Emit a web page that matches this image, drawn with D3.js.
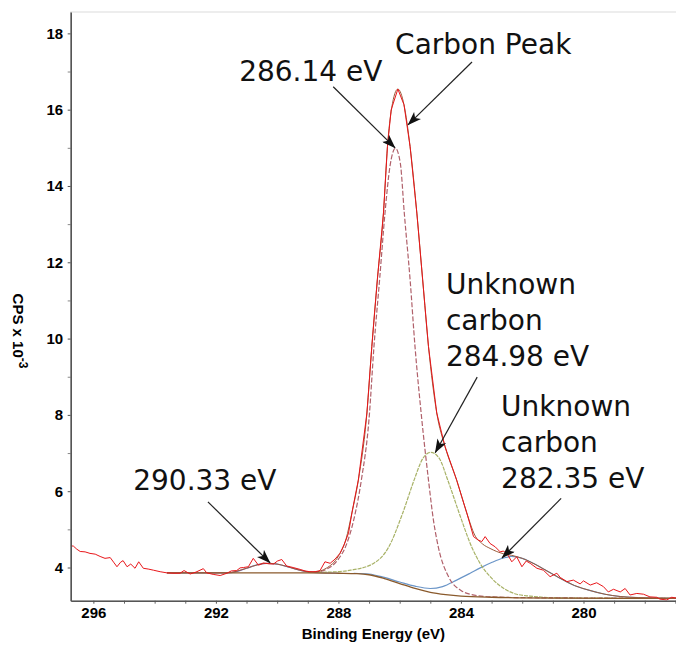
<!DOCTYPE html>
<html>
<head>
<meta charset="utf-8">
<script src="https://cdn.jsdelivr.net/npm/d3@7"></script>
<style>
  html, body { margin: 0; padding: 0; background: #fff; }
  svg { display: block; }
</style>
</head>
<body>
<svg id="chart" width="676" height="647"></svg>
<script>
// ---- C 1s spectrum: binding energy (eV) vs counts per second (x 10^3) ----

// Axis ticks
const energyTicks = [296, 292, 288, 284, 280];
const energyMinorTicks = [295, 294, 293, 291, 290, 289, 287, 286, 285, 283, 282, 281, 279, 278, 277];
const cpsTicks = [4, 6, 8, 10, 12, 14, 16, 18];
const cpsMinorTicks = [5, 7, 9, 11, 13, 15, 17];

// Measured spectrum
const rawEnergy = [296.74, 296.65, 296.54, 296.43, 296.27, 296.11, 295.94, 295.78, 295.62, 295.45,
  295.34, 295.23, 295.11, 295.03, 294.90, 294.78, 294.64, 294.52, 294.37, 294.21,
  294.04, 293.82, 293.60, 293.40, 293.17, 293.04, 292.84, 292.65, 292.41, 292.30,
  292.09, 291.86, 291.64, 291.50, 291.32, 291.21, 291.10, 290.94, 290.78, 290.61,
  290.45, 290.30, 290.12, 289.99, 289.85, 289.69, 289.48, 289.25, 289.09, 288.93,
  288.76, 288.60, 288.44, 288.27, 288.11, 287.95, 287.82, 287.67, 287.56, 287.46,
  287.35, 287.07, 286.91, 286.73, 286.53, 286.40, 286.28, 286.06, 285.86, 285.66,
  285.44, 285.25, 285.06, 284.79, 284.52, 284.14, 283.81, 283.59, 283.44, 283.32,
  283.21, 283.05, 282.88, 282.72, 282.62, 282.50, 282.34, 282.18, 282.01, 281.87,
  281.74, 281.52, 281.31, 281.09, 280.87, 280.76, 280.54, 280.33, 280.11, 280.00,
  279.78, 279.57, 279.35, 279.19, 279.02, 278.80, 278.64, 278.48, 278.26, 278.04,
  277.83, 277.61, 277.50, 277.28, 277.12, 276.98];
const rawCps = [4.57, 4.56, 4.48, 4.42, 4.41, 4.37, 4.35, 4.29, 4.24, 4.26,
  4.14, 4.02, 4.14, 4.18, 4.02, 4.09, 3.98, 4.15, 3.98, 3.96,
  3.93, 3.89, 3.86, 3.85, 3.85, 3.92, 3.83, 3.88, 3.97, 3.86,
  3.82, 3.79, 3.85, 3.91, 3.92, 3.99, 4.00, 4.02, 4.24, 4.06,
  4.12, 4.10, 4.09, 4.17, 4.21, 4.04, 4.00, 3.95, 3.91, 3.89,
  3.89, 3.92, 4.15, 4.11, 4.22, 4.37, 4.59, 4.90, 5.43, 5.85,
  6.29, 8.05, 9.79, 11.54, 13.29, 15.03, 15.99, 16.54, 16.13, 15.03,
  13.29, 11.54, 9.79, 8.05, 7.17, 6.29, 5.43, 4.81, 4.72, 4.68,
  4.81, 4.63, 4.54, 4.41, 4.43, 4.37, 4.15, 4.28, 4.02, 4.17,
  4.11, 3.98, 3.93, 3.76, 3.85, 3.74, 3.63, 3.67, 3.57, 3.65,
  3.54, 3.60, 3.50, 3.36, 3.43, 3.36, 3.45, 3.28, 3.32, 3.30,
  3.23, 3.22, 3.17, 3.15, 3.22, 3.20];

// Fitted envelope
const envEnergy = [293.6, 291.64, 291.0, 290.6, 290.33, 290.0, 289.7, 289.45, 289.1, 288.8,
  288.4, 288.0, 287.75, 287.56, 287.35, 287.07, 286.91, 286.73, 286.53, 286.40,
  286.26, 286.06, 285.86, 285.66, 285.44, 285.25, 285.06, 284.79, 284.52, 284.14,
  283.81, 283.55, 283.30, 283.05, 282.61, 282.35, 282.0, 281.74, 281.3, 280.77,
  280.3, 279.8, 279.3, 278.8, 278.2, 276.98];
const envCps = [3.86, 3.86, 3.98, 4.08, 4.11, 4.09, 4.03, 3.97, 3.90, 3.88,
  3.98, 4.30, 4.75, 5.43, 6.29, 8.05, 9.79, 11.54, 13.29, 15.03,
  16.05, 16.54, 16.13, 15.03, 13.29, 11.54, 9.79, 8.05, 7.17, 6.29,
  5.43, 4.85, 4.62, 4.50, 4.36, 4.32, 4.24, 4.15, 3.96, 3.72,
  3.53, 3.40, 3.30, 3.24, 3.21, 3.19];

// Shirley background
const bgEnergy = [293.6, 289.0, 288.0, 287.4, 287.0, 286.5, 286.0, 285.5, 285.0, 284.5, 284.0, 283.0, 281.0, 276.98];
const bgCps = [3.86, 3.86, 3.85, 3.84, 3.81, 3.71, 3.58, 3.45, 3.35, 3.29, 3.25, 3.22, 3.20, 3.19];

// Component at 290.33 eV
const c290Energy = [293.6, 291.64, 291.3, 291.0, 290.6, 290.33, 290.0, 289.7, 289.45, 289.1, 288.8, 288.0];
const c290Cps = [3.86, 3.86, 3.90, 3.98, 4.08, 4.11, 4.09, 4.03, 3.97, 3.90, 3.87, 3.85];

// Component at 286.14 eV
const c286Energy = [288.8, 288.4, 288.0, 287.75, 287.5, 287.25, 287.0, 286.84, 286.65, 286.48,
  286.32, 286.14, 285.98, 285.85, 285.66, 285.5, 285.3, 285.06, 284.9, 284.74,
  284.4, 284.0, 283.7, 283.0, 282.0, 280.0, 276.98];
const c286Cps = [3.87, 3.95, 4.22, 4.58, 5.25, 6.30, 7.90, 9.79, 11.60, 13.29,
  14.50, 14.99, 14.60, 13.29, 11.54, 9.79, 8.05, 6.29, 5.25, 4.54,
  3.75, 3.40, 3.30, 3.23, 3.21, 3.20, 3.19];

// Component at 284.98 eV
const c285Energy = [289.0, 288.3, 287.6, 286.87, 286.37, 285.9, 285.53, 285.25, 284.98, 284.7,
  284.43, 284.06, 283.65, 283.37, 283.0, 282.6, 282.18, 281.74, 281.0, 280.0, 276.98];
const c285Cps = [3.87, 3.88, 3.93, 4.10, 4.52, 5.43, 6.29, 6.85, 7.02, 6.85,
  6.29, 5.43, 4.54, 4.10, 3.72, 3.45, 3.30, 3.25, 3.21, 3.20, 3.19];

// Component at 282.35 eV
const c282Energy = [287.5, 287.0, 286.5, 286.0, 285.5, 285.0, 284.6, 284.14, 283.7, 283.37,
  283.0, 282.61, 282.35, 282.0, 281.74, 281.3, 280.77, 280.3, 279.8, 279.3,
  278.8, 278.2, 276.98];
const c282Cps = [3.85, 3.83, 3.74, 3.62, 3.51, 3.45, 3.50, 3.67, 3.85, 3.99,
  4.13, 4.25, 4.29, 4.24, 4.15, 3.96, 3.72, 3.53, 3.40, 3.30,
  3.24, 3.21, 3.19];

// Annotation texts and where their arrows point (eV, cps)
const noteLines = [["286.14 eV"], ["Carbon Peak"], ["Unknown", "carbon", "284.98 eV"], ["Unknown", "carbon", "282.35 eV"], ["290.33 eV"]];
const noteTextAt = [[291.24, 16.76], [286.15, 17.46], [284.49, 11.16], [282.69, 7.97], [294.70, 6.03]];
const noteArrowFrom = [[288.17, 16.60], [283.64, 17.25], [283.47, 8.99], [280.73, 5.81], [292.26, 5.72]];
const noteArrowTo = [[286.15, 15.00], [285.73, 15.60], [284.84, 7.01], [282.66, 4.25], [290.23, 4.12]];

// ---- layout ----
const svg = d3.select("#chart");
const plot = { left: 70.7, right: 676, top: 12, bottom: 600.7 };

const x = d3.scaleLinear().domain([296.74, 276.98]).range([plot.left, plot.right]);
const y = d3.scaleLinear().domain([3.13, 18.56]).range([plot.bottom, plot.top]);

svg.append("defs").append("clipPath").attr("id", "plotClip")
  .append("rect")
  .attr("x", plot.left).attr("y", plot.top)
  .attr("width", plot.right - plot.left + 2).attr("height", plot.bottom - plot.top);

const arrowDefs = svg.select("defs");
arrowDefs.append("marker")
  .attr("id", "head")
  .attr("viewBox", "0 0 14 10")
  .attr("refX", 13.5).attr("refY", 5)
  .attr("markerWidth", 14).attr("markerHeight", 10)
  .attr("markerUnits", "userSpaceOnUse")
  .attr("orient", "auto")
  .append("path")
  .attr("d", "M0,0 L14,5 L0,10 L3.5,5 Z")
  .attr("fill", "#111");

// light frame around the plotting area
svg.append("rect")
  .attr("x", plot.left).attr("y", plot.top)
  .attr("width", plot.right - plot.left + 4).attr("height", plot.bottom - plot.top)
  .attr("fill", "none").attr("stroke", "#dcdcdc").attr("stroke-width", 1);

// ---- curves ----
const zipSeries = (es, vs) => es.map((e, i) => [e, vs[i]]);
const smooth = d3.line().x(d => x(d[0])).y(d => y(d[1])).curve(d3.curveMonotoneX);
const straight = d3.line().x(d => x(d[0])).y(d => y(d[1]));

const curves = svg.append("g").attr("clip-path", "url(#plotClip)").attr("fill", "none");

curves.append("path").datum(zipSeries(c290Energy, c290Cps))
  .attr("d", smooth).attr("stroke", "#7f7cc0").attr("stroke-width", 1.2);
curves.append("path").datum(zipSeries(c282Energy, c282Cps))
  .attr("d", smooth).attr("stroke", "#6a95c8").attr("stroke-width", 1.2);
curves.append("path").datum(zipSeries(c285Energy, c285Cps))
  .attr("d", smooth).attr("stroke", "#a8b267").attr("stroke-width", 1.2)
  .attr("stroke-dasharray", "4,1");
curves.append("path").datum(zipSeries(c286Energy, c286Cps))
  .attr("d", smooth).attr("stroke", "#b0606a").attr("stroke-width", 1.2)
  .attr("stroke-dasharray", "5,2");
curves.append("path").datum(zipSeries(bgEnergy, bgCps))
  .attr("d", smooth).attr("stroke", "#8a5a2c").attr("stroke-width", 1.3);
curves.append("path").datum(zipSeries(envEnergy, envCps))
  .attr("d", smooth).attr("stroke", "#9a5a3a").attr("stroke-width", 1.0);
curves.append("path").datum(zipSeries(rawEnergy, rawCps))
  .attr("d", straight).attr("stroke", "#e8161a").attr("stroke-width", 1.0)
  .attr("stroke-linejoin", "round");

// ---- axes ----
const axisFont = "'Liberation Sans', Arial, sans-serif";

function styleAxis(g) {
  g.select(".domain").attr("stroke", "#555").attr("stroke-width", 1.6);
  g.selectAll(".tick line").attr("stroke", "#555").attr("stroke-width", 1);
  g.selectAll(".tick text")
    .attr("fill", "#000")
    .style("font-family", axisFont)
    .style("font-weight", "bold")
    .style("font-size", "15px");
}

svg.append("g")
  .attr("transform", `translate(0,${plot.bottom})`)
  .call(d3.axisBottom(x).tickValues(energyMinorTicks).tickSize(3).tickSizeOuter(0).tickFormat(""))
  .call(g => { g.select(".domain").remove(); g.selectAll(".tick line").attr("stroke", "#666"); });

svg.append("g")
  .attr("transform", `translate(${plot.left},0)`)
  .call(d3.axisLeft(y).tickValues(cpsMinorTicks).tickSize(3).tickSizeOuter(0).tickFormat(""))
  .call(g => { g.select(".domain").remove(); g.selectAll(".tick line").attr("stroke", "#888"); });

svg.append("g")
  .attr("transform", `translate(0,${plot.bottom})`)
  .call(d3.axisBottom(x).tickValues(energyTicks).tickSize(3).tickSizeOuter(0).tickPadding(3.5).tickFormat(d3.format("d")))
  .call(styleAxis);

svg.append("g")
  .attr("transform", `translate(${plot.left},0)`)
  .call(d3.axisLeft(y).tickValues(cpsTicks).tickSize(3).tickSizeOuter(0).tickPadding(4.5).tickFormat(d3.format("d")))
  .call(styleAxis);

// axis titles
svg.append("text")
  .attr("x", (plot.left + plot.right) / 2).attr("y", 639)
  .attr("text-anchor", "middle")
  .style("font-family", axisFont).style("font-weight", "bold").style("font-size", "15px")
  .text("Binding Energy (eV)");

const yTitle = svg.append("text")
  .attr("transform", "translate(13,331) rotate(90)")
  .attr("text-anchor", "middle")
  .style("font-family", axisFont).style("font-weight", "bold").style("font-size", "15px");
yTitle.append("tspan").text("CPS x 10");
yTitle.append("tspan").attr("dy", -6).style("font-size", "12px").text("-3");

// ---- annotations ----
const notes = svg.append("g");
noteLines.forEach((lines, i) => {
  const t = notes.append("text")
    .attr("x", x(noteTextAt[i][0])).attr("y", y(noteTextAt[i][1]))
    .style("font-family", "'DejaVu Sans', Verdana, sans-serif")
    .style("font-size", "28px")
    .attr("fill", "#111");
  lines.forEach((line, j) => {
    t.append("tspan")
      .attr("x", x(noteTextAt[i][0]))
      .attr("dy", j === 0 ? 0 : 36)
      .text(line);
  });
  notes.append("line")
    .attr("x1", x(noteArrowFrom[i][0])).attr("y1", y(noteArrowFrom[i][1]))
    .attr("x2", x(noteArrowTo[i][0])).attr("y2", y(noteArrowTo[i][1]))
    .attr("stroke", "#222").attr("stroke-width", 1.2)
    .attr("marker-end", "url(#head)");
});
</script>
</body>
</html>
